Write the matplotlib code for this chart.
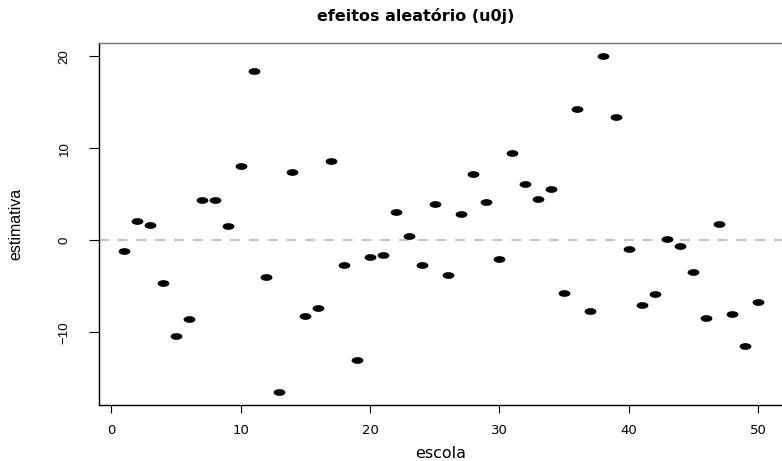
import matplotlib
matplotlib.use("Agg")
import matplotlib.pyplot as plt
from matplotlib.path import Path
import numpy as np

# ---- data ----
escola = list(range(1, 51))
estimativa = [-1.2, 2.15, 1.64, -4.69, -10.39, -8.58, 4.33, 4.33, 1.53, 8.07,
              18.47, -4.0, -16.5, 7.42, -8.25, -7.38, 8.66, -2.72, -13.0, -1.78,
              -1.56, 3.05, 0.44, -2.72, 3.97, -3.82, 2.84, 7.24, 4.18, -2.07,
              9.45, 6.07, 4.44, 5.56, -5.74, 14.33, -7.7, 20.1, 13.46, -0.98,
              -7.09, -5.81, 0.19, -0.65, -3.41, -8.47, 1.75, -7.99, -11.52, -6.69]
x_ticks = [0, 10, 20, 30, 40, 50]
y_ticks = [-10, 0, 10, 20]
title = "efeitos aleatório (u0j)"
xlabel = "escola"
ylabel = "estimativa"

plt.rcParams["lines.scale_dashes"] = False

W, H = 782, 461
fig = plt.figure(figsize=(W / 100, H / 100), dpi=100)
left, right, top, bottom = 99, 783.2, 43.3, 405
ax = fig.add_axes([left / W, 1 - bottom / H, (right - left) / W, (bottom - top) / H])
ax.set_xlim(-0.95, 51.95)
ax.set_ylim(-17.92, 21.43)

# ellipse marker (stretched dot)
t = np.linspace(0, 2 * np.pi, 60)
verts = np.column_stack([np.cos(t), 0.57 * np.sin(t)])
ell = Path(verts, closed=True)

ax.axhline(0, color="#c4c4c4", lw=1.5, dashes=(7, 6.5), zorder=1)
ax.plot(escola, estimativa, linestyle="none", marker=ell, markersize=8.5,
        color="black", markeredgewidth=0, zorder=3)

for s in ax.spines.values():
    s.set_linewidth(1.0)
    s.set_color("black")
ax.spines["top"].set_color("#777777")

ax.set_xticks(x_ticks)
ax.set_yticks(y_ticks)
ax.tick_params(axis="x", length=5.4, width=0.8, pad=8, labelsize=9.5,
               labelfontfamily="DejaVu Sans")
ax.tick_params(axis="y", length=7.5, width=0.8, pad=13, labelsize=9.5,
               labelrotation=90, labelfontfamily="Liberation Sans")
for lab in ax.get_yticklabels():
    lab.set_va("center")

ax.set_xlabel(xlabel, family="DejaVu Sans", fontsize=11.5, va="center")
ax.xaxis.set_label_coords(0.5, (bottom - 453) / (bottom - top))
ax.set_ylabel(ylabel, family="Liberation Sans", fontsize=11.5, va="center")
ax.yaxis.set_label_coords((16 - left) / (right - left), 0.5)

fig.text(416 / W, 1 - 15.5 / H, title, ha="center", va="center",
         family="DejaVu Sans", fontweight="bold", fontsize=11.5)

fig.savefig("out.png", dpi=100)
